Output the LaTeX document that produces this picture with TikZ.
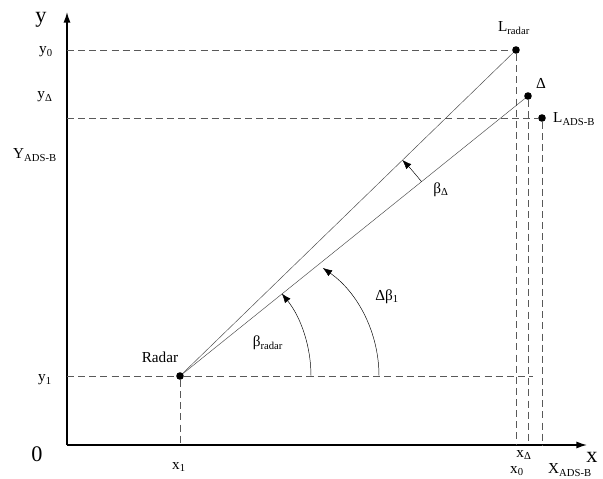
\documentclass[tikz,border=0pt]{standalone}
\usepackage{fontspec}
\setmainfont{Liberation Serif}
\usetikzlibrary{arrows.meta}
\begin{document}
\begin{tikzpicture}[x=0.03cm,y=-0.03cm,
  dot/.style={circle,fill=black,inner sep=0pt,minimum size=6.5pt},
  guide/.style={dash pattern=on 6pt off 3.5pt,gray!70!black,thin},
  ray/.style={gray!60!black,thin},
  angarrow/.style={-{Latex[length=8pt,width=6pt]}},
  lbl/.style={font=\fontsize{13}{15}\selectfont,inner sep=0pt},
  big/.style={font=\fontsize{19}{21}\selectfont,inner sep=0pt}]
\useasboundingbox (0,0) rectangle (603,479);
% axes
\coordinate (o) at (67,445);
\coordinate (ytop) at (67,12);
\coordinate (xend) at (587,445);
\draw[line width=1.2pt,-{Latex[length=9pt,width=6pt]}] (o) -- (ytop);
\draw[line width=1.2pt,-{Latex[length=9pt,width=6pt]}] (o) -- (xend);
% points
\node[dot] (r) at (180,376) {};
\node[dot] (l) at (516,50) {};
\node[dot] (d) at (528,96) {};
\node[dot] (a) at (542,118) {};
\coordinate (yend) at (533,376);
% dashed guides
\draw[guide] (o |- l) -- (l);
\draw[guide] (o |- a) -- (a);
\draw[guide] (o |- r) -- (r) -- (yend);
\draw[guide] (r) -- (r |- o);
\draw[guide] (l) -- (l |- o);
\draw[guide] (d) -- (d |- o);
\draw[guide] (a) -- (a |- o);
% rays
\draw[ray] (r) -- (l);
\draw[ray] (r) -- (d);
% angles
\coordinate (b1) at (311,376);
\coordinate (b2) at (379,376);
\draw[angarrow] (b1) arc[start angle=0,end angle=-39,radius=131];
\draw[angarrow] (b2) arc[start angle=0,end angle=-55,radius=132];
\draw[angarrow] (r) ++(-38.8:310) arc[start angle=-38.8,end angle=-44.2,radius=310];
% labels
\node[big] (ly) at (41,20) {y};
\node[big] (lx) at (592,457) {x};
\node[big] (l0) at (37,454) {0};
\node[lbl] (ly0) at (46,52) {y\textsubscript{0}};
\node[lbl] (lyd) at (45,97) {y\textsubscript{Δ}};
\node[lbl] (lya) at (35,155) {Y\textsubscript{ADS-B}};
\node[lbl] (ly1) at (45,380) {y\textsubscript{1}};
\node[lbl] (lx1) at (179,467) {x\textsubscript{1}};
\node[lbl] (lxd) at (524,455) {x\textsubscript{Δ}};
\node[lbl] (lx0) at (517,471) {x\textsubscript{0}};
\node[lbl] (lxa) at (570,470) {X\textsubscript{ADS-B}};
\node[lbl] (lr) at (160,357) {Radar};
\node[lbl] (ll) at (514,28) {L\textsubscript{radar}};
\node[lbl] (ld) at (541,83) {Δ};
\node[lbl,anchor=west] (la) at (553,119) {L\textsubscript{ADS-B}};
\node[lbl] (lbr) at (268,343) {β\textsubscript{radar}};
\node[lbl] (lb1) at (387,297) {Δβ\textsubscript{1}};
\node[lbl] (lbd) at (441,190) {β\textsubscript{Δ}};
\end{tikzpicture}
\end{document}
